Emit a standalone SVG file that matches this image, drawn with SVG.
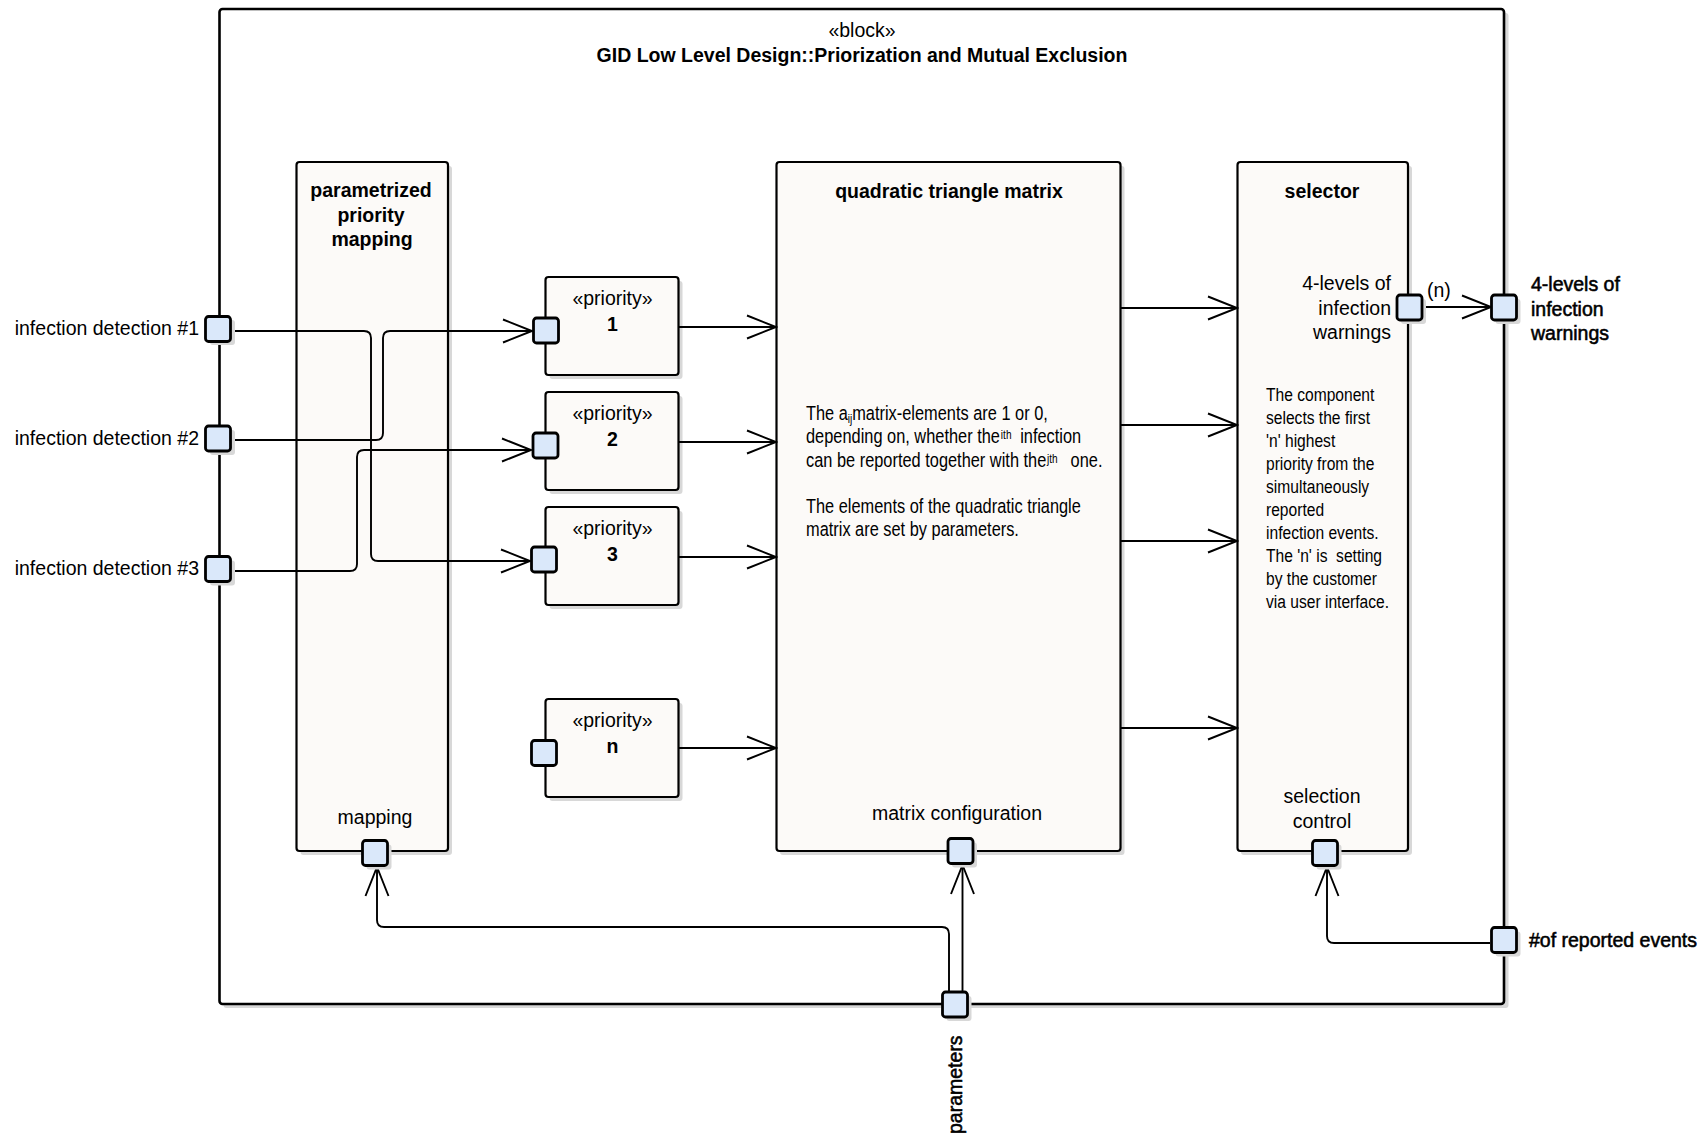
<svg xmlns="http://www.w3.org/2000/svg" width="1703" height="1136" viewBox="0 0 1703 1136">
<style>
text { font-family: "Liberation Sans", Arial, sans-serif; font-size: 19.5px; fill: #000; }
.b { font-weight: bold; }
.semi { stroke: #000; stroke-width: 0.55; }
.mid { text-anchor: middle; }
.end { text-anchor: end; }
.box { fill: #FCFAF8; stroke: #000; stroke-width: 2.2; }
.blk { fill: #FFFFFF; stroke: #000; stroke-width: 2.6; }
.shd { fill: #D8D8D8; stroke: none; }
.port { fill: #DAE8FA; stroke: #000; stroke-width: 2.8; }
.con { fill: none; stroke: #000; stroke-width: 1.9; }
.note { font-size: 19.5px; }
.snote { font-size: 18.8px; }
.sm { font-size: 12px; }
</style>
<defs>
<marker id="arr" markerUnits="userSpaceOnUse" viewBox="0 0 32 26" refX="30" refY="13" markerWidth="32" markerHeight="26" orient="auto">
<path d="M1,1.5 L30,13 L1,24.5" fill="none" stroke="#000" stroke-width="1.9"/>
</marker>
</defs>
<rect width="1703" height="1136" fill="#FFFFFF"/>

<g id="block">
<rect class="shd" x="223.5" y="13" width="1285" height="995" rx="3"/>
<rect class="blk" x="219.5" y="9" width="1284.5" height="995" rx="3"/>
<text class="mid" x="862" y="37">«block»</text>
<text class="mid b" x="862" y="62">GID Low Level Design::Priorization and Mutual Exclusion</text>
</g>

<g id="mapping-node">
<rect class="shd" x="300.5" y="166" width="151.5" height="689" rx="3"/>
<rect class="box" x="296.5" y="162" width="151.5" height="689" rx="3"/>
<text class="mid b" x="371" y="197">parametrized</text>
<text class="mid b" x="371" y="221.5">priority</text>
<text class="mid b" x="372" y="246">mapping</text>
<text class="mid" x="375" y="824">mapping</text>
</g>

<g id="matrix-node">
<rect class="shd" x="780" y="166" width="344.5" height="689" rx="3"/>
<rect class="box" x="776.5" y="162" width="344" height="689" rx="3"/>
<text class="mid b" x="949" y="198">quadratic triangle matrix</text>
<g transform="translate(806,0) scale(0.84,1)">
<text class="note" x="0" y="420">The a<tspan class="sm" dy="3">ij</tspan><tspan x="55" dy="-3">matrix-elements are 1 or 0,</tspan></text>
<text class="note" x="0" y="443.5">depending on, whether the<tspan class="sm" x="232" dy="-4">i</tspan><tspan class="sm">th</tspan><tspan x="255" dy="4">infection</tspan></text>
<text class="note" x="0" y="467">can be reported together with the<tspan class="sm" x="287" dy="-4">j</tspan><tspan class="sm">th</tspan><tspan x="315" dy="4">one.</tspan></text>
<text class="note" x="0" y="513">The elements of the quadratic triangle</text>
<text class="note" x="0" y="536">matrix are set by parameters.</text>
</g>
<text class="mid" x="957" y="820">matrix configuration</text>
</g>

<g id="selector-node">
<rect class="shd" x="1241" y="166" width="171" height="689" rx="3"/>
<rect class="box" x="1237.5" y="162" width="170.5" height="689" rx="3"/>
<text class="mid b" x="1322" y="198">selector</text>
<text class="end" x="1391" y="290">4-levels of</text>
<text class="end" x="1391" y="314.5">infection</text>
<text class="end" x="1391" y="339">warnings</text>
<g transform="translate(1266,0) scale(0.83,1)">
<text class="snote" x="0" y="401">The component</text>
<text class="snote" x="0" y="424">selects the first</text>
<text class="snote" x="0" y="447">'n' highest</text>
<text class="snote" x="0" y="470">priority from the</text>
<text class="snote" x="0" y="493">simultaneously</text>
<text class="snote" x="0" y="516">reported</text>
<text class="snote" x="0" y="539">infection events.</text>
<text class="snote" x="0" y="562" xml:space="preserve">The 'n' is  setting</text>
<text class="snote" x="0" y="585">by the customer</text>
<text class="snote" x="0" y="608">via user interface.</text>
</g>
<text class="mid" x="1322" y="803">selection</text>
<text class="mid" x="1322" y="828">control</text>
</g>

<g id="priority-1">
<rect class="shd" x="549.5" y="281" width="133" height="98" rx="3"/>
<rect class="box" x="545.5" y="277" width="133" height="98" rx="3"/>
<text class="mid" x="612.5" y="305">«priority»</text>
<text class="mid b" x="612.5" y="331">1</text>
</g>
<g id="priority-2">
<rect class="shd" x="549.5" y="396" width="133" height="98" rx="3"/>
<rect class="box" x="545.5" y="392" width="133" height="98" rx="3"/>
<text class="mid" x="612.5" y="420">«priority»</text>
<text class="mid b" x="612.5" y="446">2</text>
</g>
<g id="priority-3">
<rect class="shd" x="549.5" y="511" width="133" height="98" rx="3"/>
<rect class="box" x="545.5" y="507" width="133" height="98" rx="3"/>
<text class="mid" x="612.5" y="535">«priority»</text>
<text class="mid b" x="612.5" y="561">3</text>
</g>
<g id="priority-n">
<rect class="shd" x="549.5" y="703" width="133" height="98" rx="3"/>
<rect class="box" x="545.5" y="699" width="133" height="98" rx="3"/>
<text class="mid" x="612.5" y="727">«priority»</text>
<text class="mid b" x="612.5" y="753">n</text>
</g>

<g id="connectors">
<path class="con" d="M231,331 H364 Q371,331 371,338 V554 Q371,561 378,561 H530" marker-end="url(#arr)"/>
<path class="con" d="M231,440 H376 Q383,440 383,433 V338 Q383,331 390,331 H532" marker-end="url(#arr)"/>
<path class="con" d="M231,571 H350 Q357,571 357,564 V457 Q357,450 364,450 H531" marker-end="url(#arr)"/>
<path class="con" d="M679,327 H776" marker-end="url(#arr)"/>
<path class="con" d="M679,442 H776" marker-end="url(#arr)"/>
<path class="con" d="M679,557 H776" marker-end="url(#arr)"/>
<path class="con" d="M679,748 H776" marker-end="url(#arr)"/>
<path class="con" d="M1121,308 H1237" marker-end="url(#arr)"/>
<path class="con" d="M1121,425 H1237" marker-end="url(#arr)"/>
<path class="con" d="M1121,541 H1237" marker-end="url(#arr)"/>
<path class="con" d="M1121,728 H1237" marker-end="url(#arr)"/>
<path class="con" d="M1423,307 H1491" marker-end="url(#arr)"/>
<path class="con" d="M962.5,991 V865" marker-end="url(#arr)"/>
<path class="con" d="M949,991 V934 Q949,927 942,927 H384 Q377,927 377,920 V867" marker-end="url(#arr)"/>
<path class="con" d="M1490,943 H1334 Q1327,943 1327,936 V867" marker-end="url(#arr)"/>
<text x="1427" y="297">(n)</text>
</g>

<g id="ports">
<rect class="shd" x="210" y="320" width="25" height="25" rx="3"/>
<rect class="port" x="205.5" y="316.5" width="25" height="25" rx="3"/>
<rect class="shd" x="210" y="430" width="25" height="25" rx="3"/>
<rect class="port" x="205.5" y="426" width="25" height="25" rx="3"/>
<rect class="shd" x="210" y="560.5" width="25" height="25" rx="3"/>
<rect class="port" x="205.5" y="556.5" width="25" height="25" rx="3"/>
<rect class="port" x="533.5" y="318" width="25" height="25" rx="3"/>
<rect class="port" x="533" y="433" width="25" height="25" rx="3"/>
<rect class="port" x="531.5" y="547" width="25" height="25" rx="3"/>
<rect class="port" x="531.5" y="740.5" width="25" height="25" rx="3"/>
<rect class="shd" x="366.5" y="844.5" width="25" height="25" rx="3"/>
<rect class="port" x="362.5" y="840.5" width="25" height="25" rx="3"/>
<rect class="shd" x="952" y="842.5" width="25" height="25" rx="3"/>
<rect class="port" x="948" y="838.5" width="25" height="25" rx="3"/>
<rect class="shd" x="1316.5" y="844.5" width="25" height="25" rx="3"/>
<rect class="port" x="1312.5" y="840.5" width="25" height="25" rx="3"/>
<rect class="shd" x="1401" y="299" width="25" height="25" rx="3"/>
<rect class="port" x="1397" y="295" width="25" height="25" rx="3"/>
<rect class="shd" x="1495.5" y="299" width="25" height="25" rx="3"/>
<rect class="port" x="1491.5" y="295" width="25" height="25" rx="3"/>
<rect class="shd" x="1495.5" y="931.5" width="25" height="25" rx="3"/>
<rect class="port" x="1491.5" y="927.5" width="25" height="25" rx="3"/>
<rect class="shd" x="946.5" y="996" width="25" height="25" rx="3"/>
<rect class="port" x="942.5" y="992" width="25" height="25" rx="3"/>
</g>

<g id="port-labels">
<text class="end" x="199" y="335">infection detection #1</text>
<text class="end" x="199" y="444.5">infection detection #2</text>
<text class="end" x="199" y="575">infection detection #3</text>
<text class="semi" x="1531" y="291">4-levels of</text>
<text class="semi" x="1531" y="315.5">infection</text>
<text class="semi" x="1531" y="340">warnings</text>
<text class="semi" x="1529" y="947">#of reported events</text>
<text class="semi" transform="translate(962,1134) rotate(-90)" x="0" y="0" font-size="18.5px">parameters</text>
</g>
</svg>
